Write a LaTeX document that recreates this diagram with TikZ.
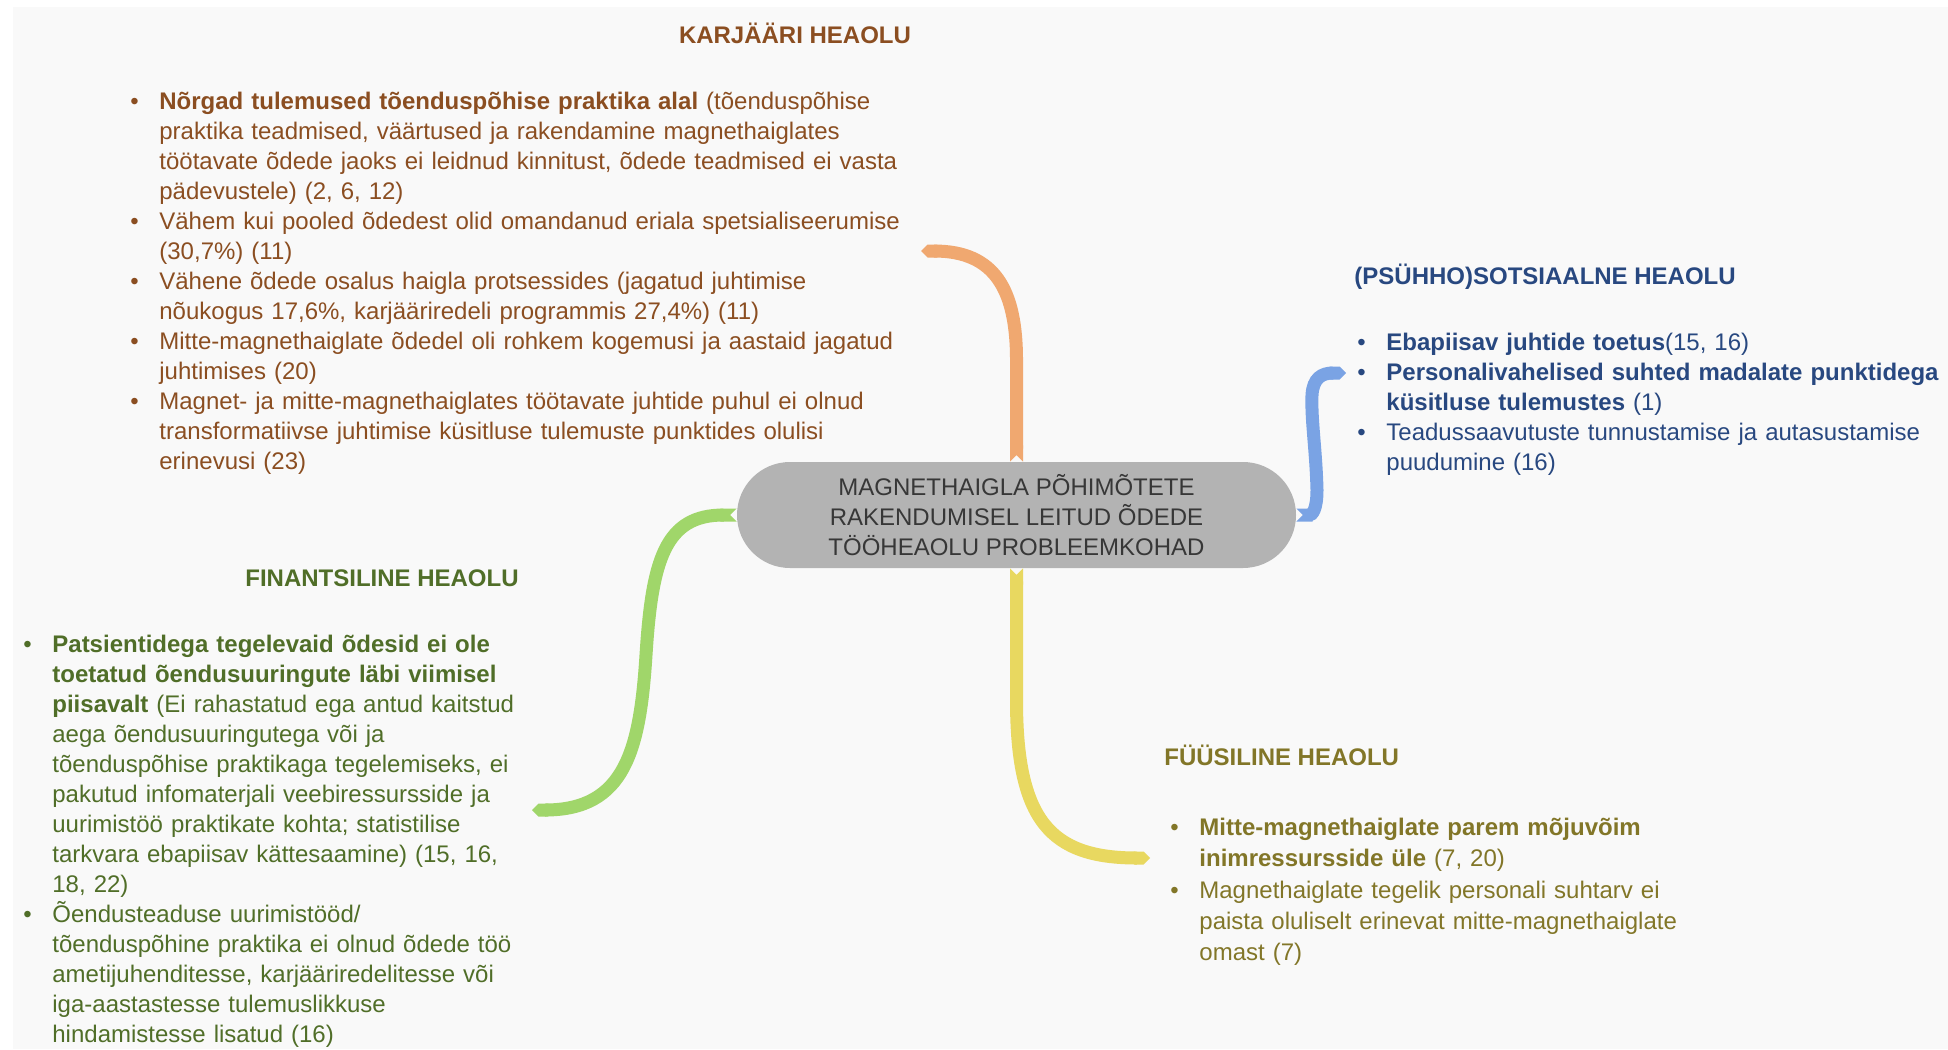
\documentclass[tikz,border=0pt]{standalone}
\usepackage{fontspec}
\setmainfont{Liberation Sans}
\usetikzlibrary{arrows.meta, positioning}

\definecolor{panelbg}{RGB}{249,249,249}
\definecolor{hubgray}{RGB}{179,179,179}
\definecolor{hubtext}{RGB}{55,55,55}
\definecolor{kartext}{RGB}{139,78,33}
\definecolor{psytext}{RGB}{40,72,128}
\definecolor{fintext}{RGB}{80,110,40}
\definecolor{fystext}{RGB}{130,118,40}
\definecolor{karband}{RGB}{240,168,112}
\definecolor{psyband}{RGB}{122,163,228}
\definecolor{finband}{RGB}{160,214,106}
\definecolor{fysband}{RGB}{232,216,96}

% one bullet point, continuation lines hang under the text
\newcommand{\bul}{\par\hangindent=14.5pt\hangafter=1\noindent\makebox[14.5pt][l]{\textbullet}\strut}

\begin{document}
\begin{tikzpicture}[x=0.5pt, y=-0.5pt,
  every node/.style={font=\fontsize{12}{15}\selectfont, inner sep=0pt},
  hub/.style={fill=hubgray, text=hubtext, rounded corners=26.5pt, minimum width=279.5pt, minimum height=53pt, align=center},
  head/.style={font=\fontsize{12}{15}\selectfont\bfseries},
  list/.style={anchor=north west, align=left},
  branch/.style={line width=6.5pt, {Triangle Cap[reversed]}-{Triangle Cap}}]
\useasboundingbox (0,0) rectangle (1948,1049);
\fill[panelbg] (13,7) rectangle (1948,1049);

\node[hub] (hub) at (1016.5,515) {MAGNETHAIGLA PÕHIMÕTETE\\RAKENDUMISEL LEITUD ÕDEDE\\TÖÖHEAOLU PROBLEEMKOHAD};

% loose ends of the branches
\coordinate (kar) at (921,251);
\coordinate (psy) at (1346,373);
\coordinate (fin) at (532,810);
\coordinate (fys) at (1150,858);

\draw[branch, karband] (hub.north) -- (1016.5,360) .. controls (1016.5,290) and (995,251) .. (kar);
\draw[branch, psyband] (hub.east) .. controls (1312,515) and (1317,510) .. (1317,490)
  .. controls (1316,450) and (1311,420) .. (1312,395) .. controls (1313,378) and (1322,373) .. (psy);
\draw[branch, finband] (hub.west) .. controls (665,515) and (652,560) .. (646,655)
  .. controls (640,750) and (625,810) .. (fin);
\draw[branch, fysband] (hub.south) -- (1016.5,700) .. controls (1016.5,820) and (1050,858) .. (fys);

% KARJÄÄRI
\node[head, text=kartext, anchor=base] (karhead) at (795,43) {KARJÄÄRI HEAOLU};
\node[list, text=kartext, text width=430pt] (karlist) at (130,79) {%
\bul\textbf{Nõrgad tulemused tõenduspõhise praktika alal} (tõenduspõhise\newline
praktika teadmised, väärtused ja rakendamine magnethaiglates\newline
töötavate õdede jaoks ei leidnud kinnitust, õdede teadmised ei vasta\newline
pädevustele) (2, 6, 12)
\bul Vähem kui pooled õdedest olid omandanud eriala spetsialiseerumise\newline
(30,7\%) (11)
\bul Vähene õdede osalus haigla protsessides (jagatud juhtimise\newline
nõukogus 17,6\%, karjääriredeli programmis 27,4\%) (11)
\bul Mitte-magnethaiglate õdedel oli rohkem kogemusi ja aastaid jagatud\newline
juhtimises (20)
\bul Magnet- ja mitte-magnethaiglates töötavate juhtide puhul ei olnud\newline
transformatiivse juhtimise küsitluse tulemuste punktides olulisi\newline
erinevusi (23)\par};

% (PSÜHHO)SOTSIAALNE
\node[head, text=psytext, anchor=base west] (psyhead) at (1354,284) {(PSÜHHO)SOTSIAALNE HEAOLU};
\node[list, text=psytext, text width=300pt] (psylist) at (1357,320) {%
\bul\textbf{Ebapiisav juhtide toetus}(15, 16)
\bul\textbf{Personalivahelised suhted madalate punktidega}\newline
\textbf{küsitluse tulemustes} (1)
\bul Teadussaavutuste tunnustamise ja autasustamise\newline
puudumine (16)\par};

% FINANTSILINE
\node[head, text=fintext, anchor=base] (finhead) at (382,586) {FINANTSILINE HEAOLU};
\node[list, text=fintext, text width=260pt] (finlist) at (23,622) {%
\bul\textbf{Patsientidega tegelevaid õdesid ei ole}\newline
\textbf{toetatud õendusuuringute läbi viimisel}\newline
\textbf{piisavalt} (Ei rahastatud ega antud kaitstud\newline
aega õendusuuringutega või ja\newline
tõenduspõhise praktikaga tegelemiseks, ei\newline
pakutud infomaterjali veebiressursside ja\newline
uurimistöö praktikate kohta; statistilise\newline
tarkvara ebapiisav kättesaamine) (15, 16,\newline
18, 22)
\bul Õendusteaduse uurimistööd/\newline
tõenduspõhine praktika ei olnud õdede töö\newline
ametijuhenditesse, karjääriredelitesse või\newline
iga-aastastesse tulemuslikkuse\newline
hindamistesse lisatud (16)\par};

% FÜÜSILINE
\node[head, text=fystext, anchor=base west] (fyshead) at (1164,765) {FÜÜSILINE HEAOLU};
\node[list, text=fystext, text width=290pt, font=\fontsize{12}{15.6}\selectfont] (fyslist) at (1170,804) {%
\bul\textbf{Mitte-magnethaiglate parem mõjuvõim}\newline
\textbf{inimressursside üle} (7, 20)
\bul Magnethaiglate tegelik personali suhtarv ei\newline
paista oluliselt erinevat mitte-magnethaiglate\newline
omast (7)\par};
\end{tikzpicture}
\end{document}
